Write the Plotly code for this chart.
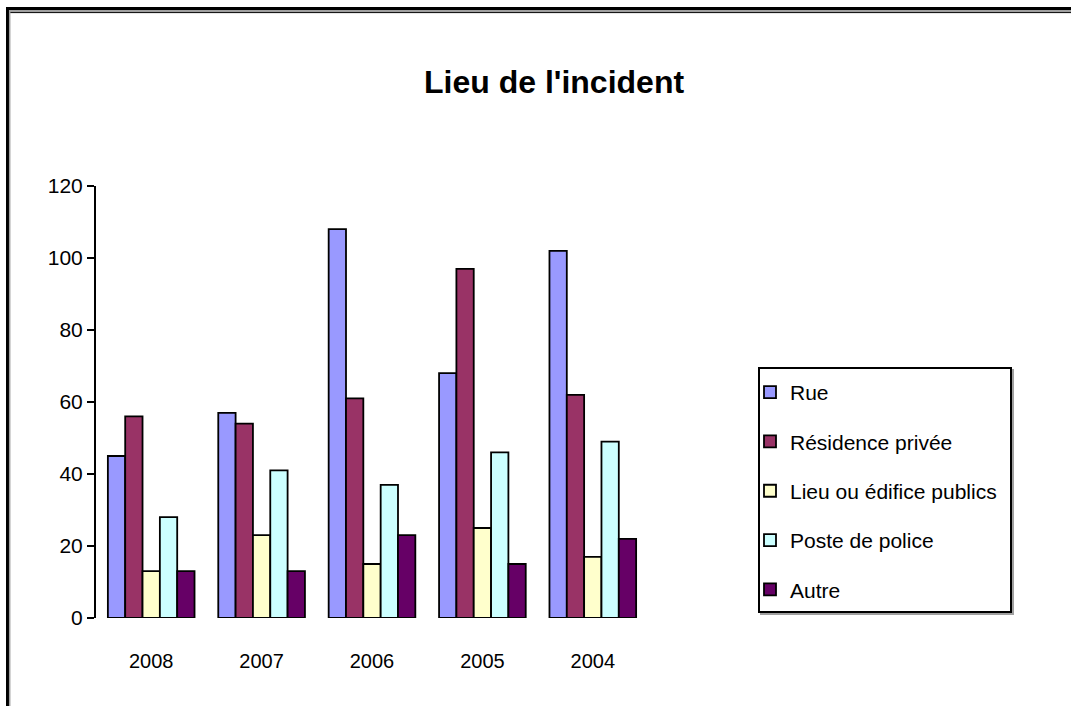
import plotly.graph_objects as go

# ---- data ----
years = ["2008", "2007", "2006", "2005", "2004"]
series_names = ["Rue", "Résidence privée", "Lieu ou édifice publics", "Poste de police", "Autre"]
rue = [45, 57, 108, 68, 102]
residence = [56, 54, 61, 97, 62]
lieu_public = [13, 23, 15, 25, 17]
poste_police = [28, 41, 37, 46, 49]
autre = [13, 13, 23, 15, 22]
y_ticks = [0, 20, 40, 60, 80, 100, 120]
title_text = "Lieu de l'incident"

colors = ["#9999FF", "#993366", "#FFFFCC", "#CCFFFF", "#660066"]
values = [rue, residence, lieu_public, poste_police, autre]

W, H = 1071, 706
# plot area in screen pixels
L, R, T, B = 96, 648, 186, 618
FONT = "Liberation Sans, Arial, sans-serif"


def px(x):
    return (x - L) / (R - L)


def py(y):
    return (B - y) / (B - T)


fig = go.Figure()
for i, (name, vals) in enumerate(zip(series_names, values)):
    fig.add_trace(go.Bar(
        x=years, y=vals, name=name, legendgroup=name,
        marker=dict(color=colors[i], line=dict(color="black", width=1.8)),
    ))

shapes = []
# outer frame (3D-like)
shapes.append(dict(type="line", xref="paper", yref="paper", x0=px(6), x1=px(1080), y0=py(8.5), y1=py(8.5),
                   line=dict(color="black", width=3)))
shapes.append(dict(type="line", xref="paper", yref="paper", x0=px(9), x1=px(1080), y0=py(11), y1=py(11),
                   line=dict(color="#A0A0A0", width=2)))
shapes.append(dict(type="line", xref="paper", yref="paper", x0=px(9), x1=px(1080), y0=py(12.6), y1=py(12.6),
                   line=dict(color="black", width=1)))
shapes.append(dict(type="line", xref="paper", yref="paper", x0=px(7.5), x1=px(7.5), y0=py(7), y1=py(715),
                   line=dict(color="black", width=3)))
shapes.append(dict(type="line", xref="paper", yref="paper", x0=px(9.7), x1=px(9.7), y0=py(10), y1=py(715),
                   line=dict(color="#A0A0A0", width=1.5)))
# legend box with shadow
shapes.append(dict(type="rect", xref="paper", yref="paper", x0=px(761), x1=px(1013), y0=py(370), y1=py(614),
                   line=dict(color="#A0A0A0", width=2), layer="below"))
shapes.append(dict(type="rect", xref="paper", yref="paper", x0=px(759), x1=px(1011), y0=py(368), y1=py(612),
                   line=dict(color="black", width=2), fillcolor="white", layer="below"))

fig.update_layout(
    width=W, height=H,
    margin=dict(l=L, r=W - R, t=T, b=H - B, autoexpand=False),
    paper_bgcolor="white", plot_bgcolor="white",
    font=dict(family=FONT, size=21, color="black"),
    barmode="group", bargap=0.215, bargroupgap=0,
    showlegend=True,
    legend=dict(
        x=px(750), y=py(372), xanchor="left", yanchor="top",
        bgcolor="rgba(0,0,0,0)", borderwidth=0,
        font=dict(family=FONT, size=21, color="black"),
        traceorder="grouped", tracegroupgap=19,
    ),
    xaxis=dict(
        showline=False, ticks="", showgrid=False, zeroline=False,
        ticklabelstandoff=29, range=[-0.5, 4.5],
        tickfont=dict(family=FONT, size=20),
    ),
    yaxis=dict(
        range=[0, 120], tickvals=y_ticks, showgrid=False, zeroline=False,
        showline=True, linecolor="black", linewidth=2,
        ticks="outside", ticklen=7, tickwidth=2, tickcolor="black",
        tickfont=dict(family=FONT, size=21),
    ),
    shapes=shapes,
    annotations=[dict(
        text="<b>" + title_text + "</b>", xref="paper", yref="paper",
        x=px(554), y=py(82), xanchor="center", yanchor="middle", showarrow=False,
        font=dict(family=FONT, size=32, color="black"),
    )],
)

fig.write_html(
    "out.html",
    config={"displayModeBar": False},
    post_script="document.body.style.margin='0';document.body.style.overflow='hidden';",
)
